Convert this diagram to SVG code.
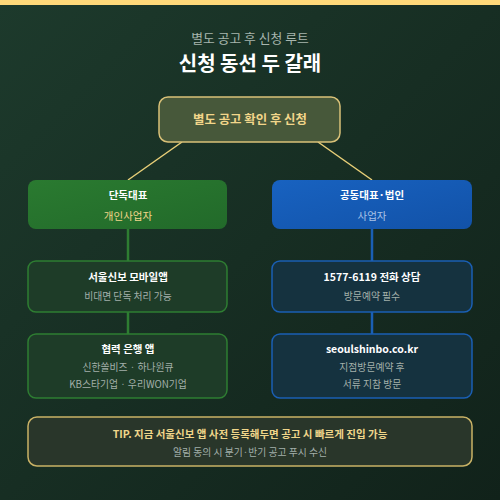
<svg xmlns="http://www.w3.org/2000/svg" width="500" height="500" viewBox="0 0 500 500">
<defs>
<linearGradient id="bg" x1="0" y1="0" x2="1" y2="1">
<stop offset="0" stop-color="#1d3a2c"/>
<stop offset="1" stop-color="#11221a"/>
</linearGradient>
<linearGradient id="gL" x1="0" y1="0" x2="1" y2="1">
<stop offset="0" stop-color="#2a7a30"/>
<stop offset="1" stop-color="#226a2a"/>
</linearGradient>
<linearGradient id="gR" x1="0" y1="0" x2="1" y2="1">
<stop offset="0" stop-color="#1862c0"/>
<stop offset="1" stop-color="#1252a8"/>
</linearGradient>
</defs>
<style>
text{font-family:"Noto Sans CJK KR","Noto Sans",sans-serif;text-anchor:middle}
.t{font-size:10.5px;font-weight:bold;fill:#ffffff}
.s{font-size:9.8px;fill:#a3b0aa}
.gn{fill:#1e3c28;stroke:#2e7d32;stroke-width:1.5}
.bn{fill:#15323f;stroke:#1a5fb4;stroke-width:1.5}
.cg{stroke:#2e7d32;stroke-width:2.5}
.cb{stroke:#1a5fb4;stroke-width:2.5}
.cy{stroke:#e8cf78;stroke-width:1.5}
</style>
<rect width="500" height="500" fill="url(#bg)"/>
<rect width="500" height="5" fill="#ffd97a"/>
<text x="250" y="43" style="font-size:12.8px;fill:#a8b6ae">별도 공고 후 신청 루트</text>
<text x="250" y="71" style="font-size:20px;font-weight:bold;fill:#ffffff">신청 동선 두 갈래</text>
<g id="connectors">
<line class="cy" x1="182" y1="142" x2="128" y2="180"/>
<line class="cy" x1="318" y1="142" x2="372" y2="180"/>
<line class="cg" x1="128" y1="229" x2="128" y2="261"/>
<line class="cg" x1="128" y1="312" x2="128" y2="334"/>
<line class="cb" x1="372" y1="229" x2="372" y2="261"/>
<line class="cb" x1="372" y1="312" x2="372" y2="334"/>
</g>
<g id="top">
<rect x="159" y="97" width="181" height="45" rx="9" fill="#47583a" stroke="#d9c178" stroke-width="1.5"/>
<text x="250" y="124" style="font-size:12.4px;font-weight:bold;fill:#f2d68a">별도 공고 확인 후 신청</text>
</g>
<g id="left">
<rect x="28" y="180" width="199" height="49" rx="8" fill="url(#gL)"/>
<text class="t" x="128" y="199">단독대표</text>
<text x="128" y="220" style="font-size:10.5px;fill:#f0d68a">개인사업자</text>
</g>
<g id="right">
<rect x="272" y="180" width="200" height="49" rx="8" fill="url(#gR)"/>
<text class="t" x="372" y="199">공동대표·법인</text>
<text x="372" y="220" style="font-size:10.5px;fill:#a9c2e6">사업자</text>
</g>
<g id="left2">
<rect class="gn" x="28" y="261" width="199" height="51" rx="8"/>
<text class="t" x="128" y="281">서울신보 모바일앱</text>
<text class="s" x="128" y="300">비대면 단독 처리 가능</text>
</g>
<g id="left3">
<rect class="gn" x="28" y="334" width="199" height="64" rx="8"/>
<text class="t" x="128" y="353">협력 은행 앱</text>
<text class="s" x="128" y="371">신한쏠비즈 · 하나원큐</text>
<text class="s" x="128" y="388">KB스타기업 · 우리WON기업</text>
</g>
<g id="right2">
<rect class="bn" x="272" y="261" width="200" height="51" rx="8"/>
<text class="t" x="372" y="281">1577-6119 전화 상담</text>
<text class="s" x="372" y="300">방문예약 필수</text>
</g>
<g id="right3">
<rect class="bn" x="272" y="334" width="200" height="64" rx="8"/>
<text class="t" x="372" y="353">seoulshinbo.co.kr</text>
<text class="s" x="372" y="371">지점방문예약 후</text>
<text class="s" x="372" y="388">서류 지참 방문</text>
</g>
<g id="tip">
<rect x="28" y="417" width="444" height="49" rx="9" fill="#29362a" stroke="#c9b266" stroke-width="1.5"/>
<text x="250" y="438" style="font-size:10.5px;font-weight:bold;fill:#f0d68a">TIP. 지금 서울신보 앱 사전 등록해두면 공고 시 빠르게 진입 가능</text>
<text class="s" x="250" y="456">알림 동의 시 분기·반기 공고 푸시 수신</text>
</g>
</svg>
